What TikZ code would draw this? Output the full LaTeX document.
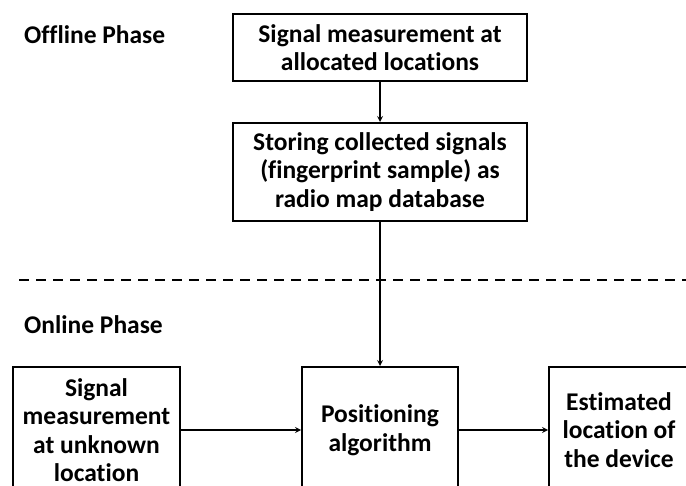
\documentclass[tikz,border=0pt]{standalone}
\usepackage{fontspec}
\setmainfont[Ligatures=NoCommon]{Carlito}
\usepackage{tikz}
\usetikzlibrary{shapes.geometric, arrows, positioning, calc}

\begin{document}
\begin{tikzpicture}[
        x=1pt, y=-1pt,
        node distance=40pt,
        >=stealth,
        font=\fontsize{25.5}{28.5}\selectfont\bfseries,
        phase/.style={anchor=west, inner sep=0pt},
        block/.style={rectangle, draw=black, line width=2pt, align=center, inner sep=2pt},
        flow/.style={->, line width=1.6pt}
    ]
    \clip (0,0) rectangle (686,486);

    % 1. Offline phase
    \node[phase] (offline) at (24,35) {Offline Phase};
    \node[block, minimum width=294pt, minimum height=67pt] (measure) at (380,47.5) {Signal measurement at\\allocated locations};
    \node[block, minimum width=294pt, minimum height=98pt, below=40pt of measure] (store) {Storing collected signals\\(fingerprint sample) as\\radio map database};

    % separator line between the two phases
    \draw[line width=1.5pt, dash pattern=on 10pt off 7pt] (19,280) -- (686,280);

    % 2. Online phase
    \node[phase] (online) at (24,325) {Online Phase};
    \node[block, minimum width=156pt, minimum height=126pt, below=144pt of store] (algo) {Positioning\\algorithm};
    \node[block, minimum width=167pt, minimum height=126pt, left=120pt of algo] (unknown) {Signal\\measurement\\at unknown\\location};
    \node[block, minimum width=140pt, minimum height=126pt, right=89pt of algo] (estimate) {Estimated\\location of\\the device};

    % 3. Arrows
    \draw[flow] (measure) -- (store);
    \draw[flow] (store) -- (algo);
    \draw[flow] (unknown) -- (algo);
    \draw[flow] (algo) -- (estimate);

\end{tikzpicture}
\end{document}
